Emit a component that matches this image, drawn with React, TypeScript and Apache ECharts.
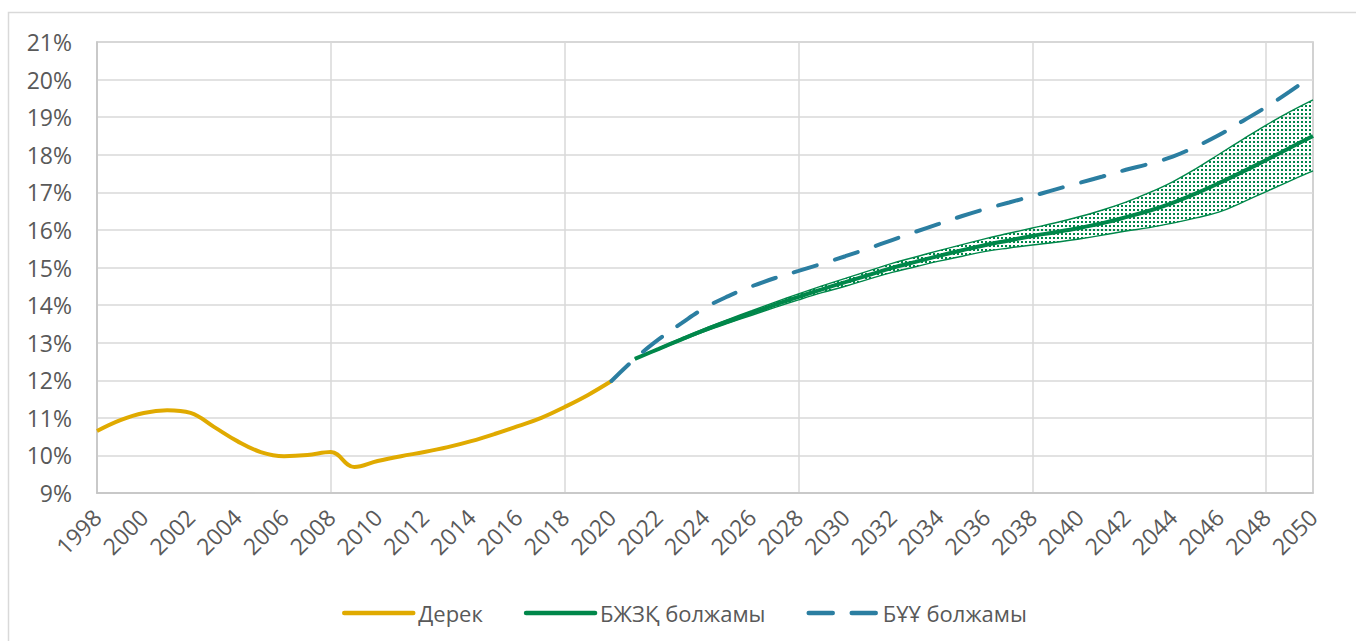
import React, { useEffect, useRef } from "react";
import * as echarts from "echarts";

const years = [
  "1998", "1999", "2000", "2001", "2002", "2003", "2004", "2005", "2006", "2007",
  "2008", "2009", "2010", "2011", "2012", "2013", "2014", "2015", "2016", "2017",
  "2018", "2019", "2020", "2021", "2022", "2023", "2024", "2025", "2026", "2027",
  "2028", "2029", "2030", "2031", "2032", "2033", "2034", "2035", "2036", "2037",
  "2038", "2039", "2040", "2041", "2042", "2043", "2044", "2045", "2046", "2047",
  "2048", "2049", "2050",
];

// "Дерек" 1998–2020
const historyStart = "1998";
const historyValues = [
  10.65, 10.94, 11.13, 11.2, 11.13, 10.76, 10.38, 10.09, 9.98, 10.01,
  10.09, 9.69, 9.85, 9.98, 10.09, 10.22, 10.38, 10.57, 10.78, 11.0,
  11.29, 11.61, 11.98,
];

// "БЖЗҚ болжамы" 2021–2050 (central, upper, lower)
const forecastStart = "2021";
const bzhzqCentral = [
  12.57, 12.83, 13.09, 13.34, 13.57, 13.79, 14.01, 14.22, 14.42, 14.61,
  14.8, 14.99, 15.15, 15.31, 15.46, 15.6, 15.72, 15.84, 15.94, 16.05,
  16.18, 16.34, 16.51, 16.72, 16.97, 17.25, 17.55, 17.86, 18.18, 18.5,
];
const bzhzqUpper = [
  12.57, 12.85, 13.12, 13.38, 13.62, 13.85, 14.08, 14.3, 14.51, 14.71,
  14.91, 15.11, 15.28, 15.45, 15.61, 15.77, 15.91, 16.05, 16.19, 16.35,
  16.53, 16.74, 16.99, 17.28, 17.63, 18.02, 18.41, 18.79, 19.14, 19.46,
];
const bzhzqLower = [
  12.57, 12.81, 13.06, 13.3, 13.52, 13.73, 13.94, 14.14, 14.33, 14.5,
  14.69, 14.87, 15.02, 15.17, 15.3, 15.43, 15.52, 15.6, 15.67, 15.76,
  15.86, 15.97, 16.06, 16.18, 16.32, 16.48, 16.74, 17.02, 17.3, 17.57,
];

// "БҰҰ болжамы" 2020–2050
const unStart = "2020";
const unValues = [
  11.98, 12.57, 13.08, 13.52, 13.93, 14.24, 14.5, 14.72, 14.91, 15.1,
  15.3, 15.51, 15.73, 15.95, 16.16, 16.37, 16.56, 16.73, 16.9, 17.08,
  17.25, 17.42, 17.6, 17.76, 17.95, 18.22, 18.53, 18.9, 19.27, 19.68,
  20.12,
];

const yMin = 9;
const yMax = 21;
const yStep = 1;

const legendNames = ["Дерек", "БЖЗҚ болжамы", "БҰҰ болжамы"];

const GOLD = "#E0AA00";
const GREEN = "#00874A";
const BLUE = "#2B7EA1";
const FONT = "Open Sans";

function place(start: string, values: number[]): (number | null)[] {
  const offset = years.indexOf(start);
  return years.map((_, i) => {
    const j = i - offset;
    return j >= 0 && j < values.length ? values[j] : null;
  });
}

function makePattern(): HTMLCanvasElement {
  const c = document.createElement("canvas");
  c.width = 4;
  c.height = 4;
  const ctx = c.getContext("2d")!;
  ctx.clearRect(0, 0, 4, 4);
  ctx.fillStyle = GREEN;
  ctx.fillRect(1, 1, 2, 2);
  return c;
}

export default function App() {
  const ref = useRef<HTMLDivElement>(null);

  useEffect(() => {
    document.body.style.margin = "0";
    document.body.style.overflow = "hidden";
    const chart = echarts.init(ref.current!, null, { renderer: "svg" });

    const lower = place(forecastStart, bzhzqLower);
    const upper = place(forecastStart, bzhzqUpper);
    const diff = lower.map((v, i) =>
      v == null || upper[i] == null ? null : +((upper[i] as number) - v).toFixed(3)
    );

    chart.setOption({
      animation: false,
      backgroundColor: "#ffffff",
      textStyle: { fontFamily: FONT },
      graphic: [
        {
          type: "rect",
          shape: { x: 8.5, y: 12.5, width: 1400, height: 700 },
          style: { fill: "none", stroke: "#d9d9d9", lineWidth: 1.5 },
          silent: true,
        },
      ],
      grid: {
        left: 97,
        top: 42,
        width: 1216,
        height: 451,
        show: true,
        borderColor: "#c4c4c4",
        borderWidth: 1.5,
        backgroundColor: "transparent",
      },
      legend: {
        data: legendNames,
        left: 337,
        top: 597,
        itemWidth: 69,
        itemHeight: 26,
        itemGap: 41,
        itemStyle: { opacity: 0 },
        lineStyle: { width: 4.5, cap: "round" },
        textStyle: { fontFamily: FONT, fontSize: 22, color: "#595959" },
      },
      xAxis: {
        type: "category",
        data: years,
        boundaryGap: false,
        axisLine: { lineStyle: { color: "#c4c4c4", width: 1.5 } },
        axisTick: { show: false },
        axisLabel: {
          interval: 1,
          rotate: 45,
          fontFamily: FONT,
          fontSize: 23,
          color: "#595959",
          margin: 20,
        },
        splitLine: {
          show: true,
          interval: (index: number) => index % 10 === 0,
          lineStyle: { color: "#d9d9d9", width: 1.5 },
        },
      },
      yAxis: {
        type: "value",
        min: yMin,
        max: yMax,
        interval: yStep,
        axisLine: { show: true, lineStyle: { color: "#c4c4c4", width: 1.5 } },
        axisTick: { show: false },
        axisLabel: {
          formatter: "{value}%",
          fontFamily: FONT,
          fontSize: 23,
          color: "#595959",
          margin: 25,
        },
        splitLine: { lineStyle: { color: "#d9d9d9", width: 1.5 } },
      },
      series: [
        {
          name: "band-lower",
          type: "line",
          stack: "band",
          data: lower,
          smooth: 0.4,
          symbol: "none",
          lineStyle: { color: GREEN, width: 1.4 },
          silent: true,
          z: 2,
        },
        {
          name: "band-upper",
          type: "line",
          stack: "band",
          data: diff,
          smooth: 0.4,
          symbol: "none",
          lineStyle: { color: GREEN, width: 1.4 },
          areaStyle: {
            color: { image: makePattern(), repeat: "repeat" },
            opacity: 1,
          },
          silent: true,
          z: 2,
        },
        {
          name: "БЖЗҚ болжамы",
          type: "line",
          data: place(forecastStart, bzhzqCentral),
          smooth: 0.4,
          symbol: "none",
          color: GREEN,
          lineStyle: { color: GREEN, width: 4 },
          z: 3,
        },
        {
          name: "Дерек",
          type: "line",
          data: place(historyStart, historyValues),
          smooth: 0.4,
          symbol: "none",
          color: GOLD,
          lineStyle: { color: GOLD, width: 4 },
          z: 3,
        },
        {
          name: "БҰҰ болжамы",
          type: "line",
          data: place(unStart, unValues),
          smooth: 0.4,
          symbol: "none",
          color: BLUE,
          lineStyle: { color: BLUE, width: 4, type: [24, 19], cap: "round" },
          z: 4,
        },
      ],
    });

    return () => chart.dispose();
  }, []);

  return <div ref={ref} style={{ width: 1356, height: 641 }} />;
}
